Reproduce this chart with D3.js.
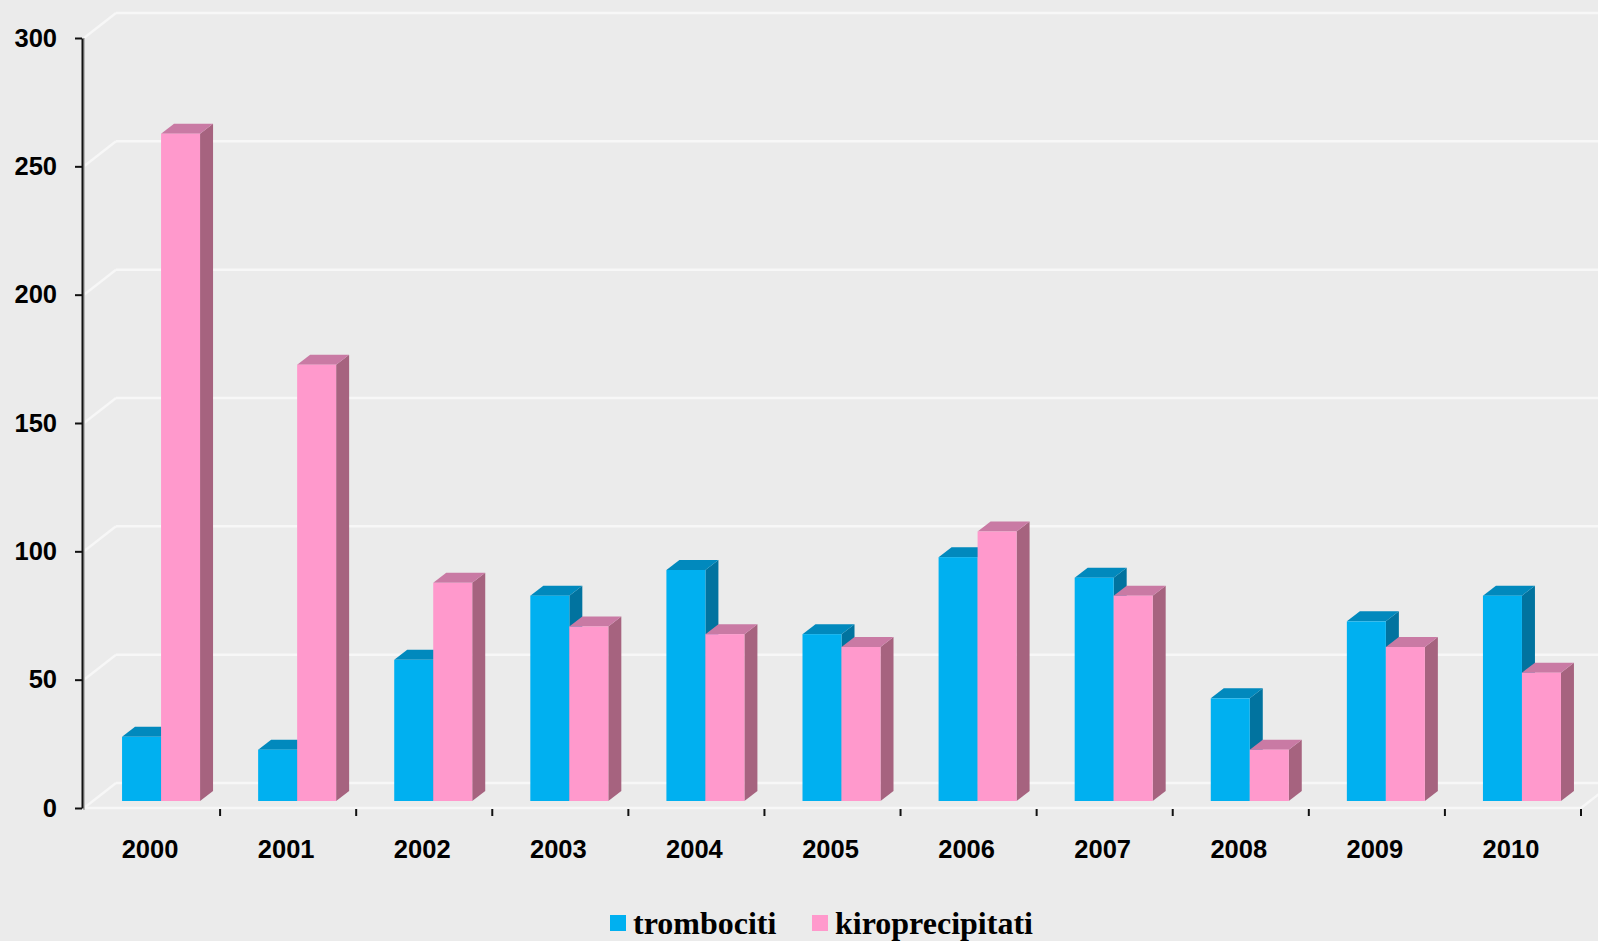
<!DOCTYPE html>
<html><head><meta charset="utf-8">
<script src="https://cdn.jsdelivr.net/npm/d3@7"></script>
<style>html,body{margin:0;padding:0;background:#EBEBEB;}svg{display:block;}</style>
</head><body>
<svg id="chart" width="1598" height="941"></svg>
<script>
const categories = ["2000","2001","2002","2003","2004","2005","2006","2007","2008","2009","2010"];
const seriesNames = ["trombociti","kiroprecipitati"];
const trombociti = [25,20,55,80,90,65,95,87,40,70,80];
const kiroprecipitati = [260,170,85,68,65,60,105,80,20,60,50];
const yTicks = [0,50,100,150,200,250,300];

const colors = {
  trombociti: {front:"#00B0F0", top:"#0189BD", side:"#01739F"},
  kiroprecipitati: {front:"#FF99CC", top:"#C97AA4", side:"#A6637F"}
};

const svg = d3.select("#chart");
svg.append("rect").attr("width",1598).attr("height",941).attr("fill","#EBEBEB");

const left = 84, right = 1581;
const y = d3.scaleLinear().domain([0,300]).range([808,38]);
const x = d3.scaleBand().domain(categories).range([left,right]).padding(0);
const depthX = 32, depthY = -25;
const barOffX = 9, barOffY = -7;
const barDX = 13, barDY = -10;
const groupW = 78;
const xs = d3.scaleBand().domain(seriesNames).range([0,groupW]).padding(0);

const grid = svg.append("g");
const gc = "#F7F7F7";
yTicks.forEach(v=>{
  grid.append("line").attr("x1",left+depthX).attr("x2",1640)
    .attr("y1",y(v)+depthY).attr("y2",y(v)+depthY)
    .attr("stroke",gc).attr("stroke-width",2.5);
  grid.append("line").attr("x1",left).attr("x2",left+depthX)
    .attr("y1",y(v)).attr("y2",y(v)+depthY)
    .attr("stroke",gc).attr("stroke-width",2.5);
});
grid.append("line").attr("x1",left).attr("x2",right).attr("y1",y(0)).attr("y2",y(0))
  .attr("stroke",gc).attr("stroke-width",2.5);
grid.append("line").attr("x1",right).attr("x2",right+depthX).attr("y1",y(0)).attr("y2",y(0)+depthY)
  .attr("stroke",gc).attr("stroke-width",2.5);

const data = {trombociti, kiroprecipitati};
const bars = svg.append("g");
categories.forEach((c,i)=>{
  const cx = x(c) + x.bandwidth()/2 + barOffX - groupW/2;
  seriesNames.forEach(s=>{
    const v = data[s][i];
    const bx = cx + xs(s), w = xs.bandwidth();
    const yt = y(v) + barOffY, yb = y(0) + barOffY;
    const col = colors[s];
    bars.append("polygon")
      .attr("points",[[bx+w,yt],[bx+w+barDX,yt+barDY],[bx+w+barDX,yb+barDY],[bx+w,yb]].join(" "))
      .attr("fill",col.side);
    bars.append("polygon")
      .attr("points",[[bx,yt],[bx+barDX,yt+barDY],[bx+w+barDX,yt+barDY],[bx+w,yt]].join(" "))
      .attr("fill",col.top);
    bars.append("rect").attr("x",bx).attr("y",yt).attr("width",w).attr("height",yb-yt)
      .attr("fill",col.front);
  });
});

const yAxis = d3.axisLeft(y).tickValues(yTicks).tickSize(7).tickSizeOuter(0).tickPadding(18);
const ya = svg.append("g").attr("transform","translate(82,0)");
ya.append("line").attr("x1",2).attr("x2",2).attr("y1",y(300)).attr("y2",y(0)+2).attr("stroke","#B8B8B8").attr("stroke-width",2);
ya.call(yAxis);
ya.select(".domain").attr("stroke","#111").attr("stroke-width",2);
ya.selectAll(".tick line").attr("stroke","#111").attr("stroke-width",2);
ya.selectAll(".tick text").attr("font-family","'Liberation Sans', Arial, sans-serif")
  .attr("font-weight","bold").attr("font-size",25.5).attr("fill","#000");

const xAxis = d3.axisBottom(x).tickSize(0).tickPadding(32);
const xa = svg.append("g").attr("transform",`translate(-2,${y(0)})`).call(xAxis);
xa.select(".domain").remove();
xa.selectAll(".tick text").attr("font-family","'Liberation Sans', Arial, sans-serif")
  .attr("font-weight","bold").attr("font-size",25.5).attr("fill","#000");
categories.forEach((c,i)=>{
  const bx = x(c) + x.bandwidth();
  svg.append("line").attr("x1",bx).attr("x2",bx).attr("y1",y(0)+1).attr("y2",y(0)+8)
    .attr("stroke","#111").attr("stroke-width",2);
});

const legend = svg.append("g");
const legendX = [610, 812];
seriesNames.forEach((s,i)=>{
  legend.append("rect").attr("x",legendX[i]).attr("y",915).attr("width",16).attr("height",16).attr("fill",colors[s].front);
  legend.append("text").attr("x",legendX[i]+23).attr("y",934).text(s)
    .attr("font-family","'Liberation Serif', 'Times New Roman', serif").attr("font-weight","bold")
    .attr("font-size",32).attr("fill","#000");
});
</script>
</body></html>
